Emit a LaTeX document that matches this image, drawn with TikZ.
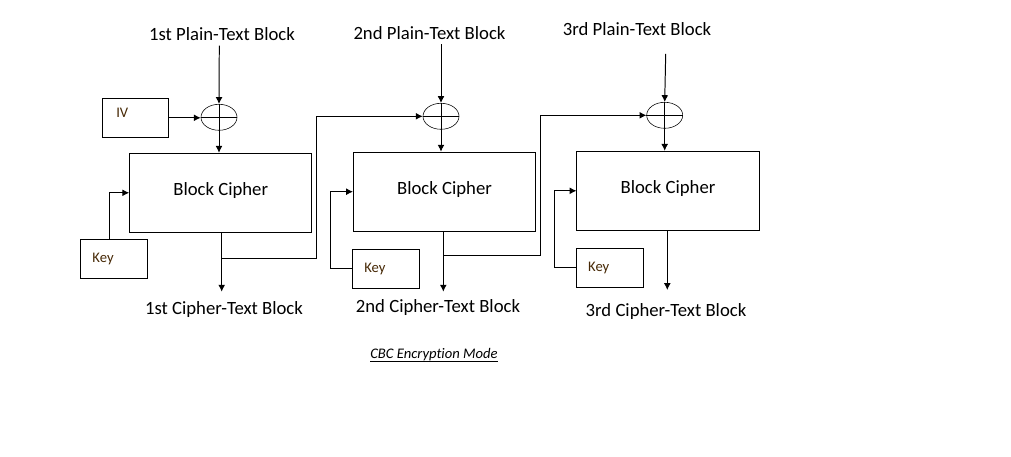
\documentclass[tikz,border=0pt]{standalone}
\usepackage{fontspec}
\setmainfont{Carlito}[Ligatures=NoCommon]
\usepackage{tikz}
\usetikzlibrary{shapes.geometric, arrows.meta}

\definecolor{keytext}{RGB}{70,40,5}

\begin{document}
\begin{tikzpicture}[x=0.025cm, y=-0.025cm, >={Latex[length=1.7mm,width=1.7mm]}, line width=0.7pt,
    cipher/.style={draw, rectangle, minimum width=4.55cm, minimum height=1.975cm, text height=0.4cm, text depth=0.25cm, font=\fontsize{13.3}{16}\selectfont},
    xorop/.style={draw, ellipse, thin, minimum width=0.9cm, minimum height=0.65cm, inner sep=0pt},
    smallbox/.style={draw, rectangle, minimum height=0.975cm, text width=1.075cm, inner xsep=0.3cm, align=left, font=\fontsize{10.4}{12}\selectfont, text=keytext},
    lbl/.style={anchor=base, font=\fontsize{13.3}{16}\selectfont}]
    \useasboundingbox (0,0) rectangle (1011,457);

    % plain-text blocks
    \node[lbl] (pt1) at (222,41) {1st Plain-Text Block};
    \node[lbl] (pt2) at (429.5,40) {2nd Plain-Text Block};
    \node[lbl] (pt3) at (637,36) {3rd Plain-Text Block};
    \coordinate (in1) at (219.3,45.7);
    \coordinate (in2) at (441,44.3);
    \coordinate (in3) at (665.7,54);

    % xor
    \node[xorop] (xor1) at (219,117.3) {};
    \node[xorop] (xor2) at (441,116.3) {};
    \node[xorop] (xor3) at (664.7,115.3) {};
    \foreach \x in {xor1,xor2,xor3}
        \draw[thin] (\x.north) -- (\x.south) (\x.west) -- (\x.east);

    % ciphers
    \node[cipher] (bc1) at (220.7,192.8) {Block Cipher};
    \node[cipher] (bc2) at (444.5,191.7) {Block Cipher};
    \node[cipher] (bc3) at (668,190.8) {Block Cipher};

    \node[smallbox, text depth=0.25cm, text width=0.95cm, inner xsep=0.35cm] (iv) at (135.3,117.8) {IV};
    \node[smallbox] (key1) at (114,258.8) {Key};
    \node[smallbox] (key2) at (385.8,268.8) {Key};
    \node[smallbox] (key3) at (609.7,267.8) {Key};

    % cipher-text blocks
    \node[lbl] (ct1) at (224,315) {1st Cipher-Text Block};
    \node[lbl] (ct2) at (438,312.7) {2nd Cipher-Text Block};
    \node[lbl] (ct3) at (666,316.7) {3rd Cipher-Text Block};
    \coordinate (out1) at (221.7,291.7);
    \coordinate (out2) at (443.3,291.7);
    \coordinate (out3) at (667.3,290);
    \coordinate (tap1) at (221.7,258.3);
    \coordinate (up1) at (316.5,258.3);
    \coordinate (tap2) at (443.3,255);
    \coordinate (up2) at (540,255);

    \draw[->] (in1) -- (xor1.north);
    \draw[->] (in2) -- (xor2.north);
    \draw[->] (in3) -- (xor3.north);
    \draw[->] (iv.east) -- (iv.east -| xor1.west);
    \draw[->] (xor1.south) -- (xor1.south |- bc1.north);
    \draw[->] (xor2.south) -- (xor2.south |- bc2.north);
    \draw[->] (xor3.south) -- (xor3.south |- bc3.north);
    \draw[->] ([xshift=-0.125cm]key1.north) |- (bc1.west);
    \draw[->] (key2.west) -- ++(-21,0) |- (bc2.west);
    \draw[->] (key3.west) -- ++(-21,0) |- (bc3.west);
    \draw[->] (out1 |- bc1.south) -- (out1);
    \draw[->] (out2 |- bc2.south) -- (out2);
    \draw[->] (out3 |- bc3.south) -- (out3);
    \draw[->] (tap1) -- (up1) |- (xor2.west);
    \draw[->] (tap2) -- (up2) |- (xor3.west);

    \node[anchor=base, font=\fontsize{10.4}{12}\selectfont] (cap) at (434,359) {\underline{\smash{\textit{CBC Encryption Mode}}}};
\end{tikzpicture}
\end{document}
